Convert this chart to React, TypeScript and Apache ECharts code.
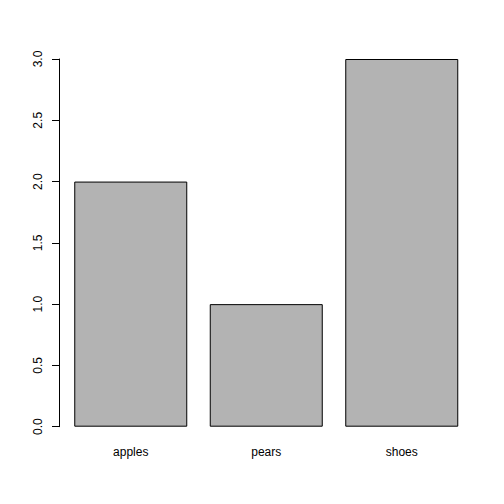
import { useEffect, useRef } from 'react';
import * as echarts from 'echarts';

const categories = ['apples', 'pears', 'shoes'];
const counts = [2, 1, 3];
const yTicks = [0, 0.5, 1, 1.5, 2, 2.5, 3];

const FONT = '"Liberation Sans", Arial, Helvetica, sans-serif';

export default function App() {
  const ref = useRef<HTMLDivElement>(null);

  useEffect(() => {
    if (!ref.current) return;
    const chart = echarts.init(ref.current, undefined, { renderer: 'svg' });
    chart.setOption({
      animation: false,
      backgroundColor: '#ffffff',
      grid: { left: 63, right: 34.5, top: 59, bottom: 77.3 },
      xAxis: {
        type: 'category',
        data: categories,
        axisLine: { show: false },
        axisTick: { show: false },
        axisLabel: { color: '#000', fontSize: 12, fontFamily: FONT, margin: 19 },
      },
      yAxis: {
        type: 'value',
        min: yTicks[0],
        max: yTicks[yTicks.length - 1],
        interval: 0.5,
        offset: 4,
        splitLine: { show: false },
        axisLine: { show: true, lineStyle: { color: '#000', width: 1 } },
        axisTick: { show: true, length: 7, lineStyle: { color: '#000', width: 1 } },
        axisLabel: {
          color: '#000',
          fontSize: 12,
          fontFamily: FONT,
          rotate: 90,
          margin: 15,
          formatter: (v: number) => v.toFixed(1),
        },
      },
      series: [
        {
          type: 'bar',
          data: counts,
          barWidth: 113,
          itemStyle: { color: '#b3b3b3', borderColor: '#000', borderWidth: 1 },
        },
      ],
    });
    return () => chart.dispose();
  }, []);

  return <div ref={ref} style={{ width: 504, height: 504, margin: -8 }} />;
}
